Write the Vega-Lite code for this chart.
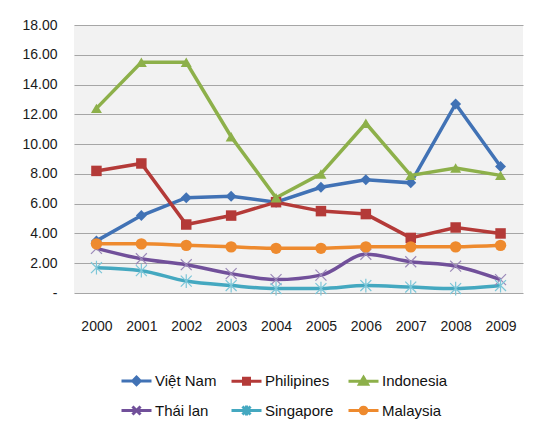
{
  "$schema": "https://vega.github.io/schema/vega-lite/v6.json",
  "description": "Six countries, 2000-2009, line chart with markers.",
  "width": 449,
  "height": 268,
  "autosize": "none",
  "padding": {"left": 74, "top": 25, "right": 19, "bottom": 147},
  "background": "white",
  "config": {
    "font": "Liberation Sans",
    "view": {"fill": "#F2F2F2", "stroke": null},
    "axis": {"labelFont": "Liberation Sans", "labelFontSize": 14, "labelColor": "#1a1a1a"}
  },
  "data": {
    "values": [
      {"year": "2000", "country": "Việt Nam", "value": 3.5},
      {"year": "2001", "country": "Việt Nam", "value": 5.2},
      {"year": "2002", "country": "Việt Nam", "value": 6.4},
      {"year": "2003", "country": "Việt Nam", "value": 6.5},
      {"year": "2004", "country": "Việt Nam", "value": 6.1},
      {"year": "2005", "country": "Việt Nam", "value": 7.1},
      {"year": "2006", "country": "Việt Nam", "value": 7.6},
      {"year": "2007", "country": "Việt Nam", "value": 7.4},
      {"year": "2008", "country": "Việt Nam", "value": 12.7},
      {"year": "2009", "country": "Việt Nam", "value": 8.5},
      {"year": "2000", "country": "Philipines", "value": 8.2},
      {"year": "2001", "country": "Philipines", "value": 8.7},
      {"year": "2002", "country": "Philipines", "value": 4.6},
      {"year": "2003", "country": "Philipines", "value": 5.2},
      {"year": "2004", "country": "Philipines", "value": 6.1},
      {"year": "2005", "country": "Philipines", "value": 5.5},
      {"year": "2006", "country": "Philipines", "value": 5.3},
      {"year": "2007", "country": "Philipines", "value": 3.7},
      {"year": "2008", "country": "Philipines", "value": 4.4},
      {"year": "2009", "country": "Philipines", "value": 4.0},
      {"year": "2000", "country": "Indonesia", "value": 12.4},
      {"year": "2001", "country": "Indonesia", "value": 15.5},
      {"year": "2002", "country": "Indonesia", "value": 15.5},
      {"year": "2003", "country": "Indonesia", "value": 10.5},
      {"year": "2004", "country": "Indonesia", "value": 6.4},
      {"year": "2005", "country": "Indonesia", "value": 8.0},
      {"year": "2006", "country": "Indonesia", "value": 11.4},
      {"year": "2007", "country": "Indonesia", "value": 7.9},
      {"year": "2008", "country": "Indonesia", "value": 8.4},
      {"year": "2009", "country": "Indonesia", "value": 7.9},
      {"year": "2000", "country": "Thái lan", "value": 3.0},
      {"year": "2001", "country": "Thái lan", "value": 2.3},
      {"year": "2002", "country": "Thái lan", "value": 1.9},
      {"year": "2003", "country": "Thái lan", "value": 1.3},
      {"year": "2004", "country": "Thái lan", "value": 0.9},
      {"year": "2005", "country": "Thái lan", "value": 1.2},
      {"year": "2006", "country": "Thái lan", "value": 2.6},
      {"year": "2007", "country": "Thái lan", "value": 2.1},
      {"year": "2008", "country": "Thái lan", "value": 1.8},
      {"year": "2009", "country": "Thái lan", "value": 0.9},
      {"year": "2000", "country": "Singapore", "value": 1.7},
      {"year": "2001", "country": "Singapore", "value": 1.5},
      {"year": "2002", "country": "Singapore", "value": 0.8},
      {"year": "2003", "country": "Singapore", "value": 0.5},
      {"year": "2004", "country": "Singapore", "value": 0.3},
      {"year": "2005", "country": "Singapore", "value": 0.3},
      {"year": "2006", "country": "Singapore", "value": 0.5},
      {"year": "2007", "country": "Singapore", "value": 0.4},
      {"year": "2008", "country": "Singapore", "value": 0.3},
      {"year": "2009", "country": "Singapore", "value": 0.5},
      {"year": "2000", "country": "Malaysia", "value": 3.3},
      {"year": "2001", "country": "Malaysia", "value": 3.3},
      {"year": "2002", "country": "Malaysia", "value": 3.2},
      {"year": "2003", "country": "Malaysia", "value": 3.1},
      {"year": "2004", "country": "Malaysia", "value": 3.0},
      {"year": "2005", "country": "Malaysia", "value": 3.0},
      {"year": "2006", "country": "Malaysia", "value": 3.1},
      {"year": "2007", "country": "Malaysia", "value": 3.1},
      {"year": "2008", "country": "Malaysia", "value": 3.1},
      {"year": "2009", "country": "Malaysia", "value": 3.2}
    ]
  },
  "encoding": {
    "x": {
      "field": "year",
      "type": "ordinal",
      "scale": {"type": "point", "padding": 0.5},
      "axis": {"title": null, "labelAngle": 0, "ticks": false, "domain": false, "grid": false, "labelPadding": 26}
    },
    "y": {
      "field": "value",
      "type": "quantitative",
      "scale": {"domain": [0, 18], "nice": false},
      "axis": {
        "title": null,
        "values": [0, 2, 4, 6, 8, 10, 12, 14, 16, 18],
        "ticks": false,
        "domain": false,
        "labelPadding": 17,
        "gridColor": "#A6A6A6",
        "gridWidth": 1.2,
        "labelExpr": "datum.value === 0 ? '-\u00a0\u00a0\u00a0' : format(datum.value, '.2f')"
      }
    },
    "color": {
      "field": "country",
      "type": "nominal",
      "scale": {
        "domain": ["Việt Nam", "Philipines", "Indonesia", "Thái lan", "Singapore", "Malaysia"],
        "range": ["#4172B5", "#B43A38", "#8DB04A", "#71509A", "#44A8C0", "#EE8A2E"]
      },
      "legend": {
        "title": null,
        "orient": "none",
        "legendX": 46,
        "legendY": 339,
        "direction": "horizontal",
        "columns": 3,
        "gridAlign": "each",
        "columnPadding": 8,
        "rowPadding": 3,
        "padding": 0,
        "symbolSize": 900,
        "symbolType": "M-1,0H1",
        "symbolStrokeWidth": 3,
        "labelOffset": 2,
        "labelFont": "Liberation Sans",
        "labelFontSize": 15,
        "labelColor": "#111111",
        "labelLimit": 120,
        "encode": {
          "symbols": {
            "update": {
              "shape": {"signal": "['M-1,0H1M0,-0.25L0.25,0L0,0.25L-0.25,0Z', 'M-1,0H1M-0.2,-0.2H0.2V0.2H-0.2Z', 'M-1,0H1M0,-0.26L0.27,0.2H-0.27Z', 'M-1,0H1M-0.27,-0.27L0.27,0.27M0.27,-0.27L-0.27,0.27', 'M-1,0H1M-0.27,-0.27L0.27,0.27M0.27,-0.27L-0.27,0.27M0,-0.33V0.33', 'M-1,0H1M-0.22,0A0.22,0.22 0 1,0 0.22,0A0.22,0.22 0 1,0 -0.22,0Z'][indexof(['Việt Nam', 'Philipines', 'Indonesia', 'Thái lan', 'Singapore', 'Malaysia'], datum.value)]"},
              "fill": {"signal": "scale('color', datum.value)"},
              "stroke": {"signal": "scale('color', datum.value)"},
              "strokeWidth": {"value": 3},
              "opacity": {"value": 1}
            }
          }
        }
      }
    }
  },
  "layer": [
    {
      "transform": [{"filter": {"field": "country", "oneOf": ["Việt Nam", "Philipines", "Indonesia"]}}],
      "mark": {"type": "line", "strokeWidth": 3.5}
    },
    {
      "transform": [{"filter": {"field": "country", "oneOf": ["Thái lan", "Singapore", "Malaysia"]}}],
      "mark": {"type": "line", "strokeWidth": 3.5, "interpolate": "monotone"}
    },
    {
      "transform": [{"filter": {"field": "country", "equal": "Việt Nam"}}],
      "mark": {"type": "point", "shape": "diamond", "filled": true, "opacity": 1, "size": 120}
    },
    {
      "transform": [{"filter": {"field": "country", "equal": "Philipines"}}],
      "mark": {"type": "point", "shape": "square", "filled": true, "opacity": 1, "size": 110}
    },
    {
      "transform": [{"filter": {"field": "country", "equal": "Indonesia"}}],
      "mark": {"type": "point", "shape": "triangle-up", "filled": true, "opacity": 1, "size": 120}
    },
    {
      "transform": [{"filter": {"field": "country", "equal": "Thái lan"}}],
      "mark": {"type": "point", "shape": "M-1,-1L1,1M1,-1L-1,1", "filled": false, "opacity": 1, "size": 120, "strokeWidth": 1.2, "stroke": "#9B88B8"}
    },
    {
      "transform": [{"filter": {"field": "country", "equal": "Singapore"}}],
      "mark": {"type": "point", "shape": "M-1,-1L1,1M1,-1L-1,1M0,-1.25V1.25", "filled": false, "opacity": 1, "size": 120, "strokeWidth": 1.2, "stroke": "#7CC6D8"}
    },
    {
      "transform": [{"filter": {"field": "country", "equal": "Malaysia"}}],
      "mark": {"type": "point", "shape": "circle", "filled": true, "opacity": 1, "size": 130}
    }
  ]
}
